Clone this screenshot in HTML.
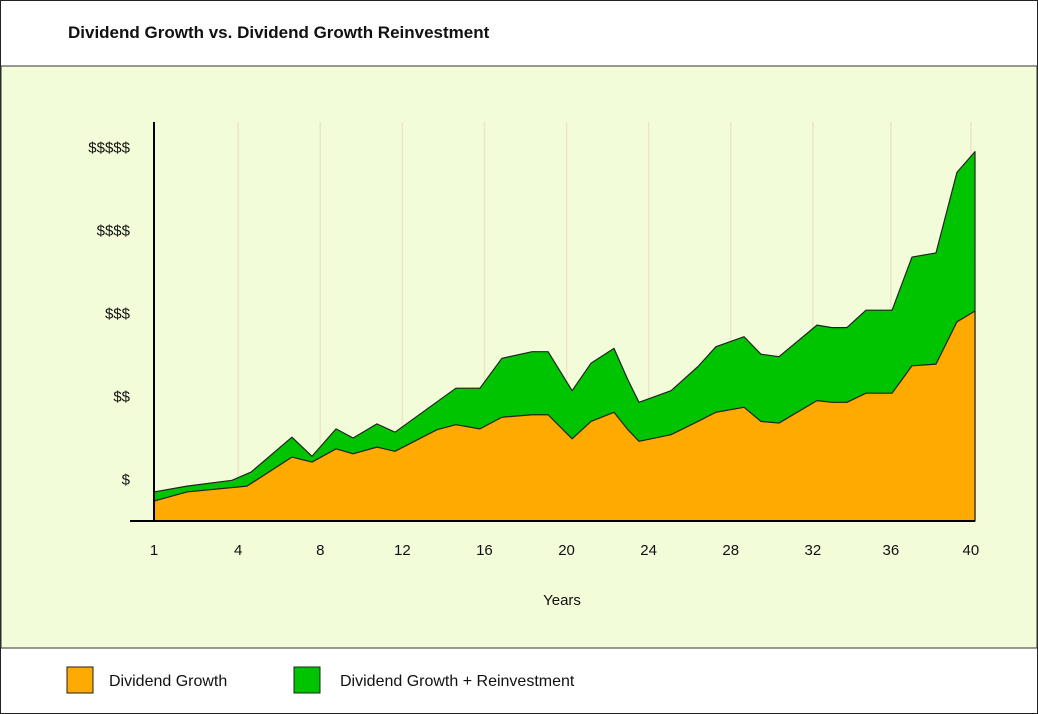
<!DOCTYPE html>
<html><head><meta charset="utf-8"><style>
body{margin:0;width:1038px;height:714px;overflow:hidden;font-family:"Liberation Sans",sans-serif;background:#fff}
</style></head><body>
<svg width="1038" height="714" style="display:block">
<rect x="0.5" y="0.5" width="1037" height="713" fill="#fff" stroke="#222"/>
<rect x="1" y="66" width="1036" height="582" fill="#f3fcd9" stroke="#333" stroke-width="1"/>
<text x="68" y="38" font-size="17" font-weight="bold" fill="#111">Dividend Growth vs. Dividend Growth Reinvestment</text>
<g id="grid"></g><g id="areas"></g><g id="axes"></g>
<text x="562" y="605" font-size="15" text-anchor="middle" fill="#111">Years</text>
<rect x="67" y="667" width="26" height="26" fill="#ffaa00" stroke="#222"/>
<text x="109" y="686" font-size="16" fill="#111">Dividend Growth</text>
<rect x="294" y="667" width="26" height="26" fill="#00c400" stroke="#222"/>
<text x="340" y="686" font-size="16" fill="#111">Dividend Growth + Reinvestment</text>
</svg>
<script>
const topYears=[0,1.61,3.80,4.73,6.72,7.70,8.87,9.70,10.86,11.74,14.71,15.88,16.95,18.42,19.20,20.37,21.29,22.41,23.09,23.63,25.19,26.50,27.38,28.75,29.57,30.45,32.30,33.03,33.76,34.69,35.96,36.93,38.10,39.12,40];
const topValues=[.35,.42,.49,.59,1.01,.78,1.11,1.00,1.17,1.07,1.60,1.60,1.96,2.04,2.04,1.57,1.90,2.08,1.70,1.43,1.57,1.86,2.10,2.22,2.01,1.98,2.36,2.33,2.33,2.54,2.54,3.18,3.23,4.20,4.45];
const baseYears=[0,1.61,4.53,6.72,7.70,8.87,9.70,10.86,11.74,13.79,14.71,15.88,16.95,18.42,19.20,20.37,21.29,22.41,23.09,23.63,25.19,26.50,27.38,28.75,29.57,30.45,32.30,33.03,33.76,34.69,35.96,36.93,38.10,39.12,40];
const baseValues=[.24,.35,.42,.77,.71,.87,.81,.89,.84,1.10,1.16,1.11,1.25,1.28,1.28,.99,1.20,1.31,1.10,.96,1.04,1.20,1.31,1.37,1.20,1.18,1.45,1.43,1.43,1.54,1.54,1.87,1.89,2.40,2.53];
const xTickYears=[0,4.1,8.1,12.1,16.1,20.1,24.1,28.1,32.1,35.9,39.8];
const xTickLabels=["1","4","8","12","16","20","24","28","32","36","40"];
const yTickValues=[0.5,1.5,2.5,3.5,4.5];
const yTickLabels=["$","$$","$$$","$$$$","$$$$$"];
const NS="http://www.w3.org/2000/svg";
const X=y=>154+y*20.525, Y=v=>521-v*83;
function mk(t,a,p){const e=document.createElementNS(NS,t);for(const k in a)e.setAttribute(k,a[k]);document.getElementById(p).appendChild(e);return e;}
xTickYears.forEach((t,i)=>{
 if(i>0){const g=mk('line',{x1:X(t),x2:X(t),y1:122,y2:521,stroke:'#ebe6c4','stroke-width':1.5},'grid');
 
 }
 const l=mk('text',{x:X(t),y:555,'font-size':15,'text-anchor':'middle',fill:'#111'},'axes');l.textContent=xTickLabels[i];
 
 
});
yTickValues.forEach((v,i)=>{
 const l=mk('text',{x:130,y:Y(v)+5,'font-size':15,'text-anchor':'end',fill:'#111'},'axes');l.textContent=yTickLabels[i];
 
 
});
function area(ys,vs,fill,name){
 let d='M'+X(ys[0])+','+Y(0);ys.forEach((y,i)=>d+=' L'+X(y)+','+Y(vs[i]));d+=' L'+X(ys[ys.length-1])+','+Y(0)+' Z';
 const p=mk('path',{d:d,fill:fill,stroke:'#222','stroke-width':1.2,'stroke-linejoin':'round'},'areas');
 
 
}
area(topYears,topValues,'#00c400','area-growth-reinvestment');
area(baseYears,baseValues,'#ffaa00','area-growth');
const ya=mk('line',{x1:154,x2:154,y1:122,y2:522,stroke:'#000','stroke-width':2},'axes');


const xa=mk('line',{x1:130,x2:975,y1:521,y2:521,stroke:'#000','stroke-width':2},'axes');


</script>
</body></html>
